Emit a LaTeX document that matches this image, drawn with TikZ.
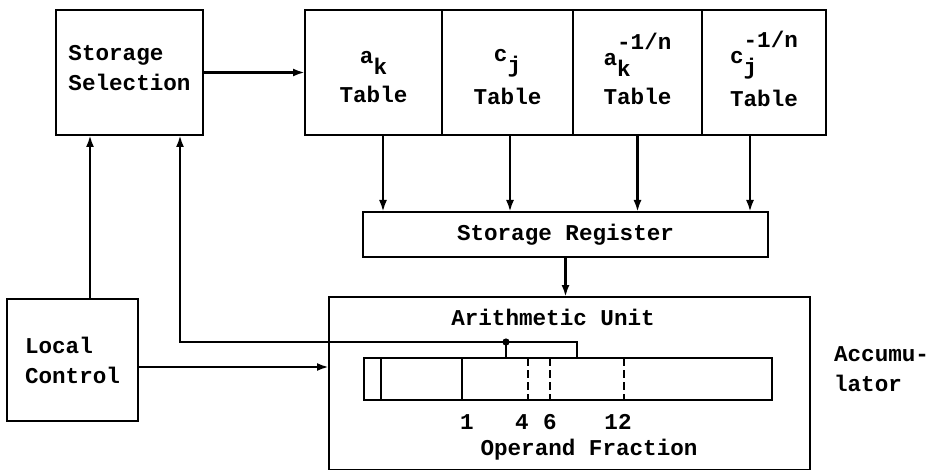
\documentclass[tikz,border=0pt]{standalone}
\usepackage{fontspec}
\setmonofont{Liberation Mono}
\usepackage{tikz}
\usetikzlibrary{positioning}
\usetikzlibrary{calc,arrows.meta}
\newcommand{\diagfont}{\ttfamily\bfseries\fontsize{11.3}{15}\selectfont}
\newcommand{\tsub}[2]{\rule{0pt}{11pt}#1\raisebox{-5.5pt}{#2}}
\newcommand{\tsubsup}[3]{#1\rlap{\raisebox{-5.5pt}{#2}}\raisebox{8pt}{#3}}
\tikzset{
	arr/.style = {line width=1.4pt, -{Latex[length=6pt,width=4pt]}},
	line/.style = {line width=1.4pt},
	box/.style = {draw, rectangle, line width=1.4pt, outer sep=0pt,
		inner sep=0pt, align=center},
	tablebox/.style = {box, minimum height=62.5pt},
	bitline/.style = {line width=1.2pt},
}
\begin{document}
\begin{tikzpicture}[x=0.5pt, y=-0.5pt, font=\diagfont]
	\useasboundingbox (0,0) rectangle (936,470);
	% storage selection and tables
	\node (sel) [box, minimum width=73.5pt, minimum height=62.5pt, align=left] at (129.5,72.5) {Storage\\Selection\\[-10pt]\mbox{}};
	\node (tabA) [tablebox, minimum width=68.5pt] at (373.5,72.5) {\tsub{a}{k}\\[4.5pt]Table};
	\node (tabB) [tablebox, minimum width=65.5pt, right=0pt of tabA] {\tsub{c}{j}\\[4.5pt]Table};
	\node (tabC) [tablebox, minimum width=64.5pt, right=0pt of tabB] {\tsubsup{a}{k}{-1/n}\\[4.5pt]Table\rule[-4pt]{0pt}{0pt}};
	\node (tabD) [tablebox, minimum width=62pt, right=0pt of tabC] {\tsubsup{c}{j}{-1/n}\\[4.5pt]Table\rule[-4pt]{0pt}{0pt}};
	\node (reg) [box, minimum width=202.5pt, minimum height=22.5pt] at (565.5,234.5) {Storage Register};
	% arithmetic unit
	\node (alu) [box, minimum width=240.5pt, minimum height=86.5pt] at (569.5,383.5) {};
	\node (alut) at (553,317) {Arithmetic Unit};
	\node (acc) [box, line width=1.2pt, minimum width=204pt, minimum height=21pt] at (568,379) {};
	\foreach \s in {8.5pt,49pt}
		\draw[bitline] ([xshift=\s]acc.north west) -- ([xshift=\s]acc.south west);
	\foreach \s in {82pt,93pt,130pt}
		\draw[bitline, dash pattern=on 4pt off 2pt] ([xshift=\s]acc.north west) -- ([xshift=\s]acc.south west);
	\node (b1) at (467,422) {1};
	\node (b4) at (522,422) {4};
	\node (b6) at (550,422) {6};
	\node (b12) at (618,422) {12};
	\node (opf) at (589,450) {Operand Fraction};
	\node (accl) [anchor=west, align=left] at (827,369) {Accumu-\\lator};
	\node (loc) [box, minimum width=65.5pt, minimum height=61pt, align=left] at (72.5,360) {Local\\Control};
	% connectors
	\coordinate (lnk) at (90,0);
	\coordinate (fbk) at (180,342);
	\coordinate (tapL) at (506,342);
	\coordinate (tapR) at (577,342);
	\coordinate (lcin) at (0,367);
	\draw[arr] (sel.east) -- (sel.east -| tabA.west);
	\draw[arr] (loc.north -| lnk) -- (sel.south -| lnk);
	\draw[line] (acc.north -| tapL) -- (tapL) -- (tapR) -- (acc.north -| tapR);
	\draw[arr] (tapL) -- (fbk) -- (sel.south -| fbk);
	\fill (tapL) circle (1.8pt);
	\draw[arr] (loc.east |- lcin) -- (alu.west |- lcin);
	\foreach \t/\s in {tabA/4.75pt, tabB/1.25pt, tabC/0pt, tabD/-7pt}
		\draw[arr] ([xshift=\s]\t.south) -- ([xshift=\s]\t.south |- reg.north);
	\draw[arr] (reg.south) -- (reg.south |- alu.north);
\end{tikzpicture}
\end{document}
